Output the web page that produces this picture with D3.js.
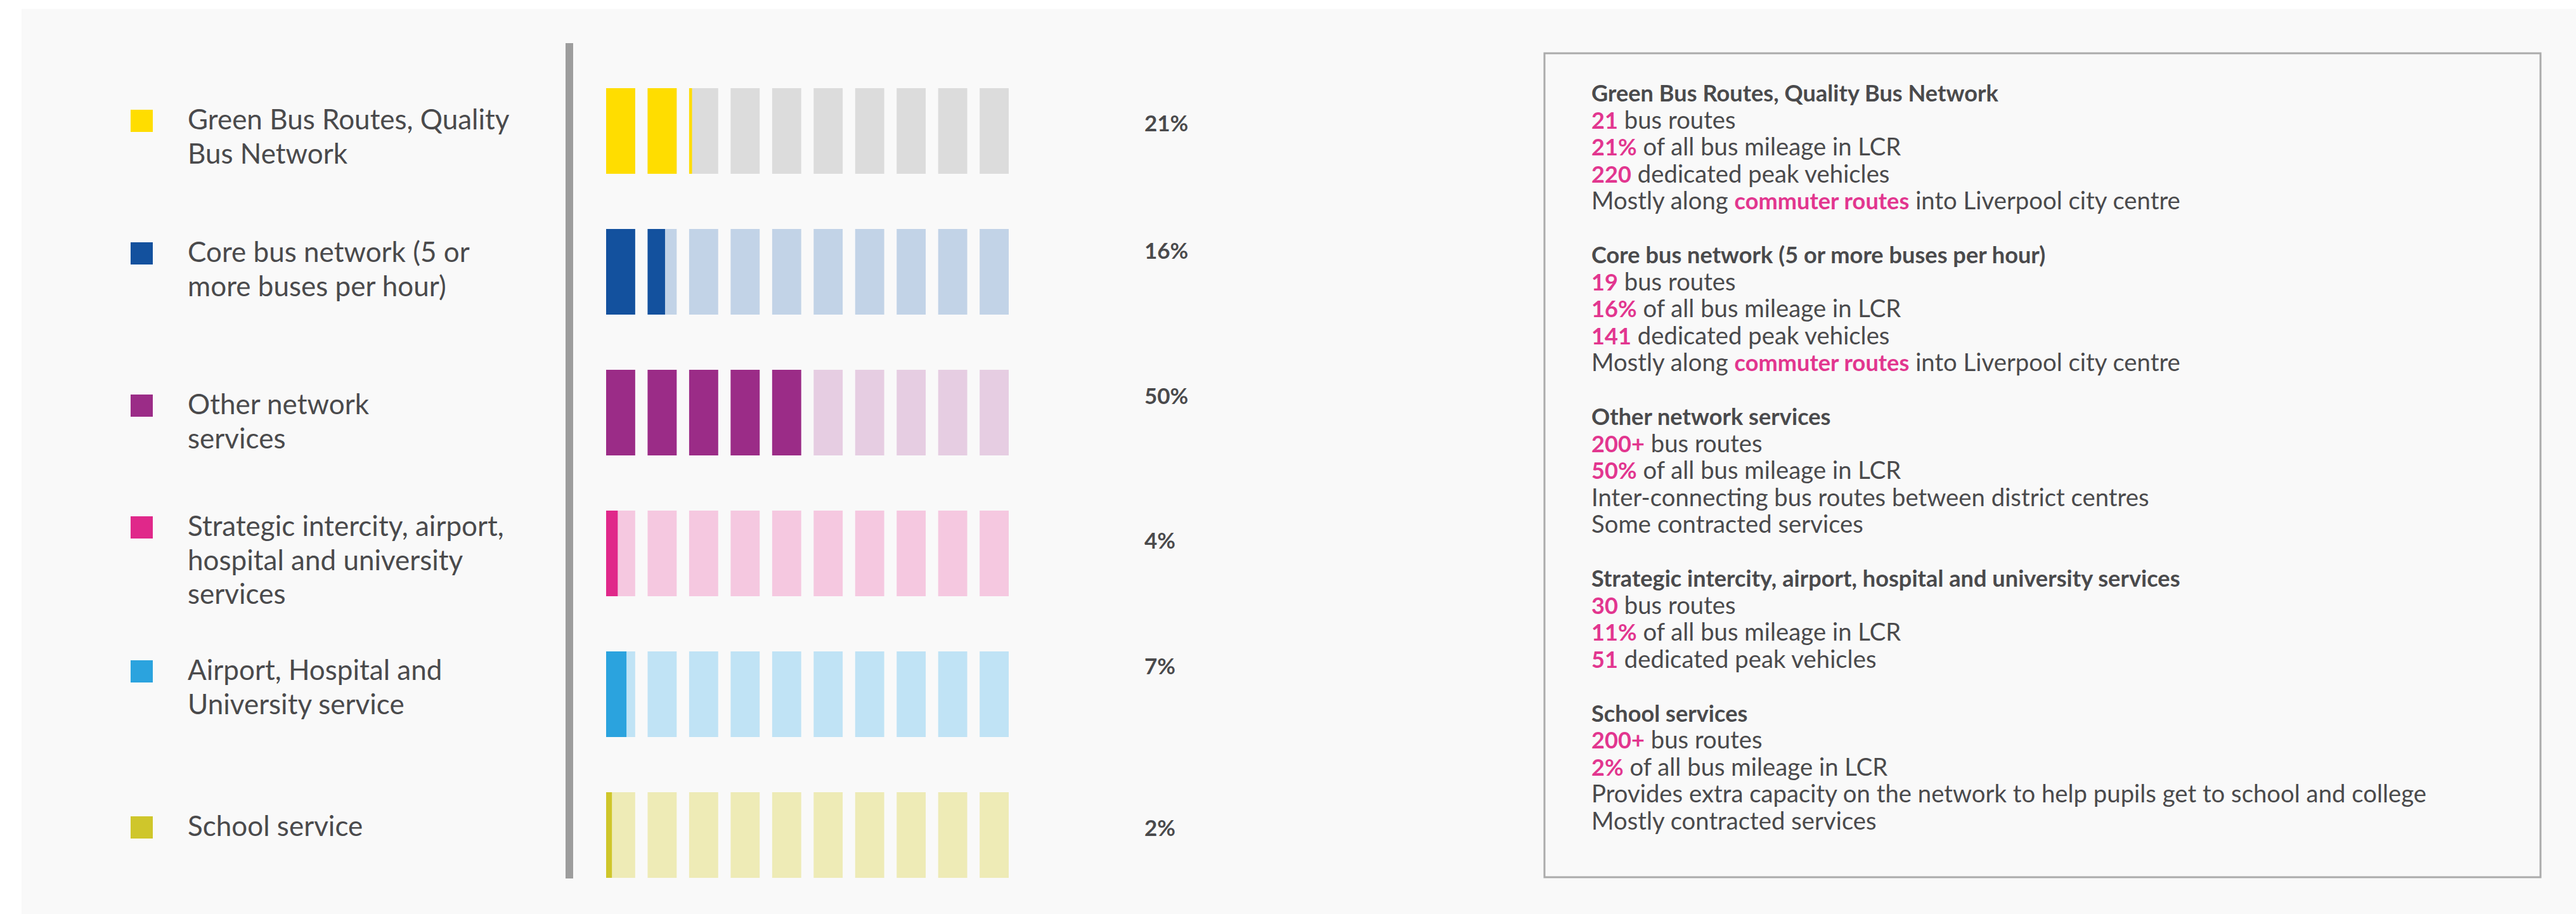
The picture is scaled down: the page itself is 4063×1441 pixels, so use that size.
<!DOCTYPE html>
<html>
<head>
<meta charset="utf-8">
<script src="https://cdn.jsdelivr.net/npm/d3@7"></script>
<style>
body { margin: 0; background: #ffffff; }
svg { display: block; }
</style>
</head>
<body>
<svg id="svg1"></svg>
<script>
// categories shown in the legend (wrapped as in the picture)
var legendLines = [
	["Green Bus Routes, Quality", "Bus Network"],
	["Core bus network (5 or", "more buses per hour)"],
	["Other network", "services"],
	["Strategic intercity, airport,", "hospital and university", "services"],
	["Airport, Hospital and", "University service"],
	["School service"]
];

// share of bus mileage (%), one bar = 10%
var mileageShare = [21, 16, 50, 4, 7, 2];

var fullColors = ["#ffdd00", "#13519e", "#9b2c87", "#e0288a", "#2ba3de", "#cfc62b"];
var lightColors = ["#dcdcdc", "#c2d3e7", "#e6cde2", "#f5c8e0", "#c0e3f5", "#eeebb6"];

// info box
var boxHeadings = [
	"Green Bus Routes, Quality Bus Network",
	"Core bus network (5 or more buses per hour)",
	"Other network services",
	"Strategic intercity, airport, hospital and university services",
	"School services"
];
var boxRoutes = ["21", "19", "200+", "30", "200+"];
var boxMileage = ["21%", "16%", "50%", "11%", "2%"];
var boxVehicles = ["220", "141", null, "51", null];
var boxNotes = [
	["Mostly along *commuter routes* into Liverpool city centre"],
	["Mostly along *commuter routes* into Liverpool city centre"],
	["Inter-connecting bus routes between district centres", "Some contracted services"],
	[],
	["Provides extra capacity on the network to help pupils get to school and college", "Mostly contracted services"]
];

var W = 4063, H = 1441;
var textColor = "#4a4a4c", pink = "#e2368f";
var font = "Lato, 'Open Sans', sans-serif";

// layout of the left side (these follow the picture, not the data)
var legendTop = [173, 382, 622, 814, 1041, 1287];
var pctBaseline = [207, 408, 637, 865, 1063, 1318];

var svg = d3.select("#svg1")
	.attr("width", W)
	.attr("height", H);

svg.append("rect")
	.attr("x", 34).attr("y", 14)
	.attr("width", W - 34).attr("height", H - 14)
	.attr("fill", "#f9f9f9");

// grey divider
svg.append("rect")
	.attr("x", 892).attr("y", 68)
	.attr("width", 12).attr("height", 1317)
	.attr("fill", "#9d9d9d");

var rows = d3.range(mileageShare.length);

var y = d3.scalePoint()
	.domain(rows)
	.range([139, 1249]);

var x = d3.scaleBand()
	.domain(d3.range(10))
	.range([956, 1591])
	.paddingInner(0.3)
	.paddingOuter(0);

// percent -> number of bars filled
var unit = d3.scaleLinear().domain([0, 100]).range([0, 10]);

var barH = 135;

// legend
var legend = svg.selectAll(".legend")
	.data(rows)
	.enter().append("g")
	.attr("class", "legend");

legend.append("rect")
	.attr("x", 206)
	.attr("y", function(d) { return legendTop[d]; })
	.attr("width", 35)
	.attr("height", 35)
	.attr("fill", function(d) { return fullColors[d]; });

legend.append("text")
	.attr("fill", textColor)
	.style("font-family", font)
	.style("font-size", "44px")
	.each(function(d) {
		var t = d3.select(this);
		legendLines[d].forEach(function(line, i) {
			t.append("tspan")
				.attr("x", 296)
				.attr("y", legendTop[d] + 31 + i * 53.5)
				.text(line);
		});
	});

// bars
var row = svg.selectAll(".row")
	.data(rows)
	.enter().append("g")
	.attr("class", "row")
	.attr("transform", function(d) { return "translate(0," + y(d) + ")"; });

row.each(function(r) {
	var g = d3.select(this);
	var cells = d3.range(10).map(function(i) {
		return { i: i, fill: Math.max(0, Math.min(1, unit(mileageShare[r]) - i)) };
	});
	g.selectAll(".bg")
		.data(cells)
		.enter().append("rect")
		.attr("class", "bg")
		.attr("x", function(d) { return x(d.i); })
		.attr("y", 0)
		.attr("width", x.bandwidth())
		.attr("height", barH)
		.attr("fill", lightColors[r]);
	g.selectAll(".fg")
		.data(cells.filter(function(d) { return d.fill > 0; }))
		.enter().append("rect")
		.attr("class", "fg")
		.attr("x", function(d) { return x(d.i); })
		.attr("y", 0)
		.attr("width", function(d) { return x.bandwidth() * d.fill; })
		.attr("height", barH)
		.attr("fill", fullColors[r]);
});

// percentage labels
svg.selectAll(".pct")
	.data(rows)
	.enter().append("text")
	.attr("class", "pct")
	.attr("x", 1805)
	.attr("y", function(d) { return pctBaseline[d]; })
	.attr("fill", textColor)
	.style("font-family", font)
	.style("font-size", "35px")
	.style("font-weight", "bold")
	.text(function(d) { return mileageShare[d] + "%"; });

// info box
svg.append("rect")
	.attr("x", 2436).attr("y", 84)
	.attr("width", 1571).attr("height", 1299)
	.attr("fill", "none")
	.attr("stroke", "#ababab")
	.attr("stroke-width", 3);

var lines = [];
boxHeadings.forEach(function(h, s) {
	lines.push([{ t: h, bold: true }]);
	lines.push([{ t: boxRoutes[s], bold: true, hl: true }, { t: " bus routes" }]);
	lines.push([{ t: boxMileage[s], bold: true, hl: true }, { t: " of all bus mileage in LCR" }]);
	if (boxVehicles[s] != null)
		lines.push([{ t: boxVehicles[s], bold: true, hl: true }, { t: " dedicated peak vehicles" }]);
	boxNotes[s].forEach(function(n) {
		lines.push(n.split("*").map(function(p, k) {
			return k % 2 == 1 ? { t: p, bold: true, hl: true } : { t: p };
		}));
	});
	lines.push([]);
});

svg.selectAll(".info")
	.data(lines)
	.enter().append("text")
	.attr("class", "info")
	.attr("x", 2510)
	.attr("y", function(d, i) { return 160 + i * 42.5; })
	.style("font-family", font)
	.style("white-space", "pre")
	.each(function(d) {
		var t = d3.select(this);
		d.forEach(function(p) {
			t.append("tspan")
				.attr("fill", p.hl ? pink : textColor)
				.style("font-weight", p.bold ? "bold" : "normal")
				.style("font-size", p.bold ? "36.2px" : "38.3px")
				.text(p.t);
		});
	});
</script>
</body>
</html>
